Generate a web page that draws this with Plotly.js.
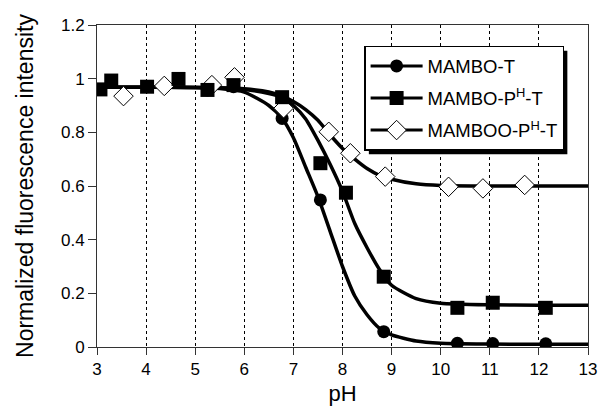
<!DOCTYPE html>
<html><head><meta charset="utf-8">
<script src="https://cdn.plot.ly/plotly-3.0.1.min.js"></script>
<style>html,body{margin:0;padding:0;background:#fff}#chart{width:600px;height:406px}</style>
</head><body><div id="chart"></div>
<script>
// Measured points
const tX = [3.07, 4.02, 5.25, 5.78, 6.77, 7.55, 8.84, 10.34, 11.06, 12.14];
const tY = [0.96, 0.97, 0.958, 0.97, 0.852, 0.548, 0.057, 0.014, 0.013, 0.012];
const phX = [3.07, 3.29, 4.02, 4.66, 5.25, 5.78, 6.77, 7.55, 8.07, 8.84, 10.34, 11.06, 12.14];
const phY = [0.96, 0.993, 0.97, 0.999, 0.958, 0.976, 0.931, 0.685, 0.575, 0.262, 0.146, 0.165, 0.146];
const ooX = [3.54, 4.37, 5.34, 5.80, 6.80, 7.72, 8.16, 8.87, 10.16, 10.86, 11.71];
const ooY = [0.935, 0.973, 0.976, 1.005, 0.89, 0.802, 0.722, 0.635, 0.597, 0.591, 0.604];
// Fitted curves
const curveX = [3, 4, 5, 5.5, 6, 6.5, 6.77, 7, 7.25, 7.5, 7.75, 8, 8.25, 8.5, 8.75, 9, 9.5, 10, 11, 12, 13];
const tFit  = [0.968, 0.968, 0.967, 0.963, 0.95, 0.9, 0.852, 0.78, 0.67, 0.56, 0.43, 0.30, 0.19, 0.12, 0.07, 0.045, 0.022, 0.014, 0.011, 0.01, 0.01];
const phFit = [0.968, 0.968, 0.967, 0.965, 0.96, 0.945, 0.93, 0.9, 0.85, 0.77, 0.68, 0.58, 0.46, 0.37, 0.29, 0.23, 0.18, 0.163, 0.157, 0.156, 0.156];
const ooFit = [0.968, 0.968, 0.967, 0.966, 0.962, 0.95, 0.935, 0.915, 0.885, 0.845, 0.79, 0.74, 0.70, 0.665, 0.64, 0.625, 0.608, 0.602, 0.6, 0.6, 0.6];
const names = ['MAMBO-T', 'MAMBO-P<sup>H</sup>-T', 'MAMBOO-P<sup>H</sup>-T'];
const xTicks = [3,4,5,6,7,8,9,10,11,12,13];

const lineStyle = {color: '#000', width: 3.5, shape: 'spline', smoothing: 0.6};
const symT = {symbol: 'circle', size: 13, color: '#000'};
const symPH = {symbol: 'square', size: 14, color: '#000'};
const symOO = {symbol: 'diamond', size: 15, color: '#fff', line: {color: '#000', width: 1}};

const data = [
  {x: curveX, y: tFit, mode: 'lines', line: lineStyle, showlegend: false, hoverinfo: 'skip'},
  {x: curveX, y: phFit, mode: 'lines', line: lineStyle, showlegend: false, hoverinfo: 'skip'},
  {x: curveX, y: ooFit, mode: 'lines', line: lineStyle, showlegend: false, hoverinfo: 'skip'},
  {x: tX, y: tY, mode: 'markers', marker: symT, showlegend: false},
  {x: ooX, y: ooY, mode: 'markers', marker: symOO, showlegend: false},
  {x: phX, y: phY, mode: 'markers', marker: symPH, showlegend: false},
  {x: [null], y: [null], name: names[0], legendgroup: 'a', mode: 'lines+markers', line: {color: '#000', width: 3}, marker: symT},
  {x: [null], y: [null], name: names[1], legendgroup: 'b', mode: 'lines+markers', line: {color: '#000', width: 3}, marker: symPH},
  {x: [null], y: [null], name: names[2], legendgroup: 'c', mode: 'lines+markers', line: {color: '#000', width: 3}, marker: symOO}
];

const M = {l: 97, r: 12, t: 25, b: 59};
const layout = {
  width: 600, height: 406,
  margin: M,
  paper_bgcolor: '#fff', plot_bgcolor: '#fff',
  font: {family: 'Liberation Sans, Arial, sans-serif', color: '#000', size: 16},
  showlegend: true,
  xaxis: {
    range: [3, 13], tickvals: xTicks, ticktext: xTicks.map(String),
    showgrid: true, gridcolor: '#000', griddash: 'dot', gridwidth: 1,
    zeroline: false, showline: true, linecolor: '#333', linewidth: 1, mirror: true,
    ticks: 'outside', ticklen: 7, tickcolor: '#333',
    tickfont: {size: 17},
    title: {text: 'pH', font: {size: 22}, standoff: 8}
  },
  yaxis: {
    range: [0, 1.2], dtick: 0.2, tick0: 0,
    showgrid: false, zeroline: false, showline: true, linecolor: '#333', linewidth: 1, mirror: true,
    ticks: 'outside', ticklen: 8, tickcolor: '#333',
    tickfont: {size: 17},
    title: {text: 'Normalized fluorescence intensity', font: {size: 23}, standoff: 20}
  },
  legend: {
    x: 0.544, y: 0.935, xanchor: 'left', yanchor: 'top',
    bgcolor: '#fff', bordercolor: '#000', borderwidth: 1.5,
    font: {size: 18.5}, tracegroupgap: 5, itemwidth: 52
  },
  shapes: []
};
Plotly.newPlot('chart', data, layout, {displayModeBar: false, staticPlot: true}).then(function (gd) {
  // drop shadow behind the legend box, offset 4px right/down
  const bg = gd.querySelector('.legend .bg');
  if (!bg) return;
  const r = bg.getBoundingClientRect();
  const c = gd.getBoundingClientRect();
  const pw = 600 - M.l - M.r, ph = 406 - M.t - M.b;
  const left = r.left - c.left + 4, right = r.right - c.left + 4;
  const top = r.top - c.top + 4, bottom = r.bottom - c.top + 4;
  return Plotly.relayout(gd, {shapes: [{
    type: 'rect', xref: 'paper', yref: 'paper',
    x0: (left - M.l) / pw, x1: (right - M.l) / pw,
    y0: (406 - M.b - bottom) / ph, y1: (406 - M.b - top) / ph,
    fillcolor: '#000', line: {width: 0}, layer: 'below'
  }]});
});
</script></body></html>
